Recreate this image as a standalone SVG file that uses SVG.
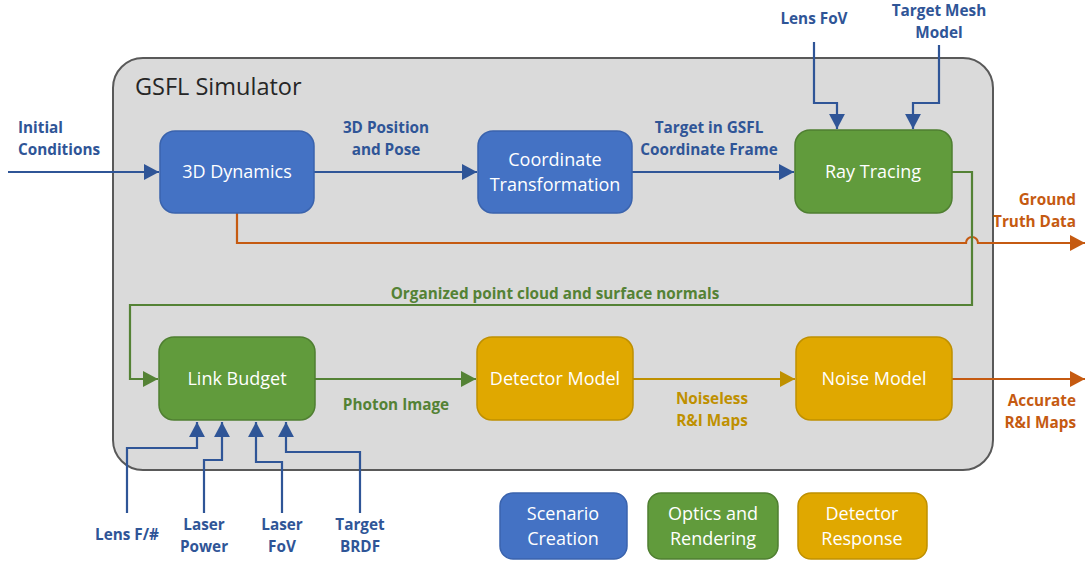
<svg xmlns="http://www.w3.org/2000/svg" width="1086" height="561" viewBox="0 0 1086 561">
<style>
.box{stroke-width:1.5}
.blue{fill:#4472c4;stroke:#3a63ad}
.green{fill:#619b3c;stroke:#4f7f31}
.gold{fill:#e0a800;stroke:#bf9000}
.nt{font-family:"Open Sans","Liberation Sans",sans-serif;font-size:18px;fill:#ffffff;text-anchor:middle}
.lb{font-family:"Open Sans","Liberation Sans",sans-serif;font-size:15.3px;font-weight:bold;text-anchor:middle}
.cb{stroke:#2f5597;stroke-width:2.2;fill:none}
.cg{stroke:#548235;stroke-width:2.2;fill:none}
.cy{stroke:#bf9000;stroke-width:2.2;fill:none}
.co{stroke:#c55a11;stroke-width:2.2;fill:none}
.tb{fill:#2f5597}.tg{fill:#548235}.ty{fill:#bf9000}.to{fill:#c55a11}
</style>
<defs>
<marker id="ab" viewBox="0 0 10 10" refX="10" refY="5" markerWidth="7" markerHeight="7.4" markerUnits="strokeWidth" orient="auto" preserveAspectRatio="none"><path d="M0,0L10,5L0,10z" fill="#2f5597"/></marker>
<marker id="ag" viewBox="0 0 10 10" refX="10" refY="5" markerWidth="7" markerHeight="7.4" markerUnits="strokeWidth" orient="auto" preserveAspectRatio="none"><path d="M0,0L10,5L0,10z" fill="#548235"/></marker>
<marker id="ay" viewBox="0 0 10 10" refX="10" refY="5" markerWidth="7" markerHeight="7.4" markerUnits="strokeWidth" orient="auto" preserveAspectRatio="none"><path d="M0,0L10,5L0,10z" fill="#bf9000"/></marker>
<marker id="ao" viewBox="0 0 10 10" refX="10" refY="5" markerWidth="7" markerHeight="7.4" markerUnits="strokeWidth" orient="auto" preserveAspectRatio="none"><path d="M0,0L10,5L0,10z" fill="#c55a11"/></marker>
</defs>
<rect width="1086" height="561" fill="#ffffff"/>
<g id="simulator">
<rect x="113" y="58" width="880" height="412" rx="30" fill="#dadada" stroke="#595959" stroke-width="2"/>
<text x="135" y="95" font-family="Open Sans,Liberation Sans,sans-serif" font-size="23.5" fill="#262626">GSFL Simulator</text>
</g>
<g id="connectors">
<path class="cb" d="M8,172H159" marker-end="url(#ab)"/>
<path class="cb" d="M314,172H477" marker-end="url(#ab)"/>
<path class="cb" d="M632,172H794" marker-end="url(#ab)"/>
<path class="cb" d="M814,42V103H837V129" marker-end="url(#ab)"/>
<path class="cb" d="M939,45V103H913V129" marker-end="url(#ab)"/>
<path class="co" d="M237,213V243H966A6,6 0 0 1 978,243H1085" marker-end="url(#ao)"/>
<path class="cg" d="M952,172H972V305H130V379H158" marker-end="url(#ag)"/>
<path class="cg" d="M315,379H476" marker-end="url(#ag)"/>
<path class="cy" d="M633,379H795" marker-end="url(#ay)"/>
<path class="co" d="M952,379H1085" marker-end="url(#ao)"/>
<path class="cb" d="M127,513V448H197V422" marker-end="url(#ab)"/>
<path class="cb" d="M204,513V460H222V422" marker-end="url(#ab)"/>
<path class="cb" d="M282,513V462H256V422" marker-end="url(#ab)"/>
<path class="cb" d="M360,513V452H286V422" marker-end="url(#ab)"/>
<text class="lb tb" style="text-anchor:start" x="18" y="133">Initial</text>
<text class="lb tb" style="text-anchor:start" x="18" y="155">Conditions</text>
<text class="lb tb" x="386" y="133">3D Position</text>
<text class="lb tb" x="386" y="155">and Pose</text>
<text class="lb tb" x="709" y="133">Target in GSFL</text>
<text class="lb tb" x="709" y="155">Coordinate Frame</text>
<text class="lb tb" x="814" y="24">Lens FoV</text>
<text class="lb tb" x="939" y="16">Target Mesh</text>
<text class="lb tb" x="939" y="38">Model</text>
<text class="lb to" style="text-anchor:end" x="1076" y="205">Ground</text>
<text class="lb to" style="text-anchor:end" x="1076" y="227">Truth Data</text>
<text class="lb tg" x="555" y="299">Organized point cloud and surface normals</text>
<text class="lb tg" x="396" y="410">Photon Image</text>
<text class="lb ty" x="712" y="404">Noiseless</text>
<text class="lb ty" x="712" y="426">R&amp;I Maps</text>
<text class="lb to" style="text-anchor:end" x="1076" y="406">Accurate</text>
<text class="lb to" style="text-anchor:end" x="1076" y="428">R&amp;I Maps</text>
<text class="lb tb" x="127" y="540">Lens F/#</text>
<text class="lb tb" x="204" y="530">Laser</text>
<text class="lb tb" x="204" y="552">Power</text>
<text class="lb tb" x="282" y="530">Laser</text>
<text class="lb tb" x="282" y="552">FoV</text>
<text class="lb tb" x="360" y="530">Target</text>
<text class="lb tb" x="360" y="552">BRDF</text>
</g>
<g id="dynamics"><rect class="box blue" x="160" y="131" width="154" height="82" rx="15"/><text class="nt" x="237" y="178">3D Dynamics</text></g>
<g id="coordinate"><rect class="box blue" x="478" y="131" width="154" height="82" rx="15"/><text class="nt" x="555" y="166">Coordinate</text><text class="nt" x="555" y="191">Transformation</text></g>
<g id="raytracing"><rect class="box green" x="795" y="130" width="157" height="83" rx="15"/><text class="nt" x="873" y="178">Ray Tracing</text></g>
<g id="linkbudget"><rect class="box green" x="159" y="337" width="156" height="83" rx="15"/><text class="nt" x="237" y="385">Link Budget</text></g>
<g id="detector"><rect class="box gold" x="477" y="337" width="156" height="83" rx="15"/><text class="nt" x="555" y="385">Detector Model</text></g>
<g id="noise"><rect class="box gold" x="796" y="337" width="156" height="83" rx="15"/><text class="nt" x="874" y="385">Noise Model</text></g>
<g id="legend-scenario"><rect class="box blue" x="500" y="493" width="127" height="66" rx="13"/><text class="nt" x="563" y="520">Scenario</text><text class="nt" x="563" y="545">Creation</text></g>
<g id="legend-optics"><rect class="box green" x="648" y="493" width="130" height="66" rx="13"/><text class="nt" x="713" y="520">Optics and</text><text class="nt" x="713" y="545">Rendering</text></g>
<g id="legend-detector"><rect class="box gold" x="798" y="493" width="129" height="66" rx="13"/><text class="nt" x="862" y="520">Detector</text><text class="nt" x="862" y="545">Response</text></g>
</svg>
